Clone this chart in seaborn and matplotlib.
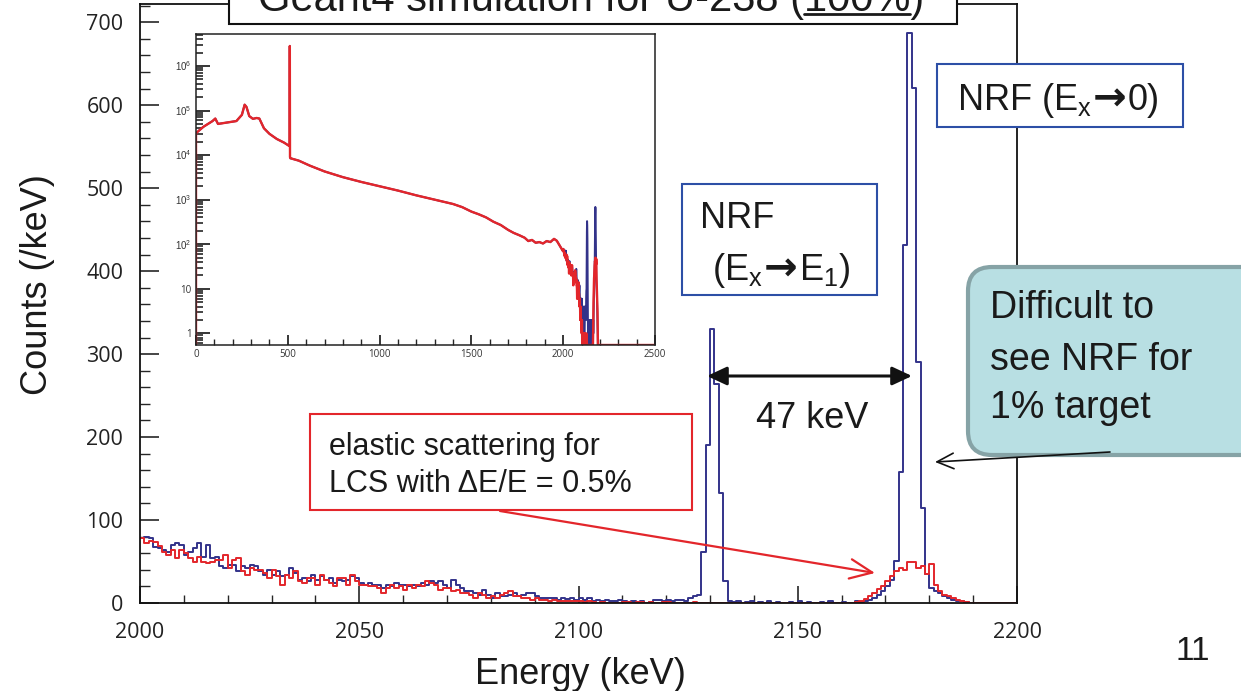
import numpy as np
import pandas as pd
import matplotlib
matplotlib.use("Agg")
import matplotlib.pyplot as plt
import seaborn as sns
from matplotlib.patches import Rectangle, FancyBboxPatch, FancyArrowPatch
from matplotlib.lines import Line2D
from matplotlib.transforms import IdentityTransform
from matplotlib.ticker import MultipleLocator, FixedLocator, FixedFormatter, LogLocator, NullFormatter

# ---------------- data (1 keV bins, 2000-2199 keV) ----------------
bin_start_keV = 2000
bin_stop_keV = 2200

blue_counts = [  # U-238 100% target (NRF peaks)
    78, 79, 78, 68, 66, 64, 62, 70, 72, 70,
    58, 62, 66, 72, 56, 70, 54, 56, 44, 42,
    46, 46, 38, 44, 42, 46, 44, 38, 34, 40,
    34, 38, 32, 34, 42, 36, 28, 30, 26, 34,
    28, 32, 28, 30, 24, 28, 26, 28, 32, 30,
    24, 22, 24, 22, 22, 18, 22, 20, 24, 22,
    22, 20, 22, 20, 24, 22, 26, 24, 26, 22,
    18, 28, 22, 18, 14, 14, 12, 10, 16, 10,
    6, 12, 8, 8, 10, 12, 8, 10, 12, 12,
    8, 6, 6, 6, 6, 4, 6, 5, 6, 4,
    6, 4, 6, 2, 4, 2, 4, 2, 2, 4,
    2, 1, 2, 1, 2, 0, 1, 4, 4, 2,
    4, 2, 4, 4, 2, 6, 9, 10, 62, 191,
    330, 264, 133, 27, 3, 1, 2, 0, 1, 2,
    0, 1, 0, 2, 0, 1, 0, 0, 1, 0,
    2, 0, 1, 0, 0, 1, 0, 2, 0, 0,
    1, 0, 0, 2, 1, 2, 4, 6, 10, 15,
    20, 28, 51, 158, 431, 687, 621, 290, 115, 35,
    18, 14, 12, 8, 6, 4, 3, 2, 1, 0,
    0, 0, 0, 0, 0, 0, 0, 0, 0, 0,
]

red_counts = [  # elastic scattering, LCS dE/E = 0.5 %
    78, 72, 75, 74, 69, 62, 58, 64, 54, 64,
    60, 54, 50, 56, 50, 48, 50, 52, 52, 58,
    42, 52, 54, 38, 34, 42, 40, 40, 36, 30,
    40, 32, 22, 34, 30, 38, 26, 24, 30, 30,
    22, 34, 28, 24, 20, 30, 30, 22, 34, 26,
    22, 22, 20, 20, 18, 12, 18, 22, 18, 20,
    16, 22, 18, 22, 20, 26, 24, 22, 16, 18,
    18, 14, 16, 12, 12, 10, 6, 12, 10, 6,
    8, 6, 10, 12, 14, 8, 8, 6, 6, 4,
    6, 4, 4, 2, 4, 2, 2, 2, 2, 2,
    2, 1, 2, 1, 0, 1, 0, 0, 0, 0,
    1, 1, 0, 1, 1, 0, 1, 0, 0, 1,
    1, 0, 0, 0, 0, 0, 1, 0, 0, 0,
    0, 0, 0, 0, 0, 0, 0, 0, 0, 0,
    0, 0, 0, 0, 0, 0, 0, 0, 0, 0,
    0, 0, 0, 0, 0, 0, 0, 0, 0, 0,
    0, 0, 0, 1, 3, 5, 8, 12, 17, 20,
    27, 33, 38, 42, 40, 50, 49, 42, 44, 35,
    47, 22, 15, 10, 8, 6, 4, 3, 1, 0,
    0, 0, 0, 0, 0, 0, 0, 0, 0, 0,
]

# inset: full spectrum 0-2000 keV (log scale)
inset_energy = [0, 0, 40, 90, 105, 120, 160, 220, 250, 265, 275, 290, 310, 330, 345,
                370, 400, 440, 480, 508, 510, 511, 512, 514, 560, 620, 700, 800, 900,
                1000, 1100, 1200, 1300, 1400, 1450, 1500, 1540, 1580, 1620, 1660,
                1700, 1730, 1760, 1790, 1810, 1830, 1850, 1870, 1890, 1910, 1930,
                1950, 1965, 1980, 1999]
inset_counts = [0.55, 3.1e4, 4.3e4, 5.8e4, 6.6e4, 5.0e4, 5.3e4, 5.8e4, 8.0e4, 1.35e5,
                1.2e5, 7.5e4, 6.5e4, 6.8e4, 6.6e4, 4.0e4, 3.0e4, 2.3e4, 1.9e4, 1.6e4,
                1.6e4, 2.8e6, 9.0e3, 8.5e3, 7.5e3, 5.8e3, 4.3e3, 3.2e3, 2.5e3, 2.0e3,
                1.6e3, 1.25e3, 1.0e3, 800, 680, 540, 470, 400, 320, 270, 210, 180,
                160, 140, 118, 125, 108, 112, 104, 118, 112, 132, 120, 95, 70]

x_ticks = [2000, 2050, 2100, 2150, 2200]
x_tick_labels = ["2000", "2050", "2100", "2150", "2200"]
y_ticks = [0, 100, 200, 300, 400, 500, 600, 700]
y_tick_labels = ["0", "100", "200", "300", "400", "500", "600", "700"]
inset_x_ticks = [0, 500, 1000, 1500, 2000, 2500]
inset_x_labels = ["0", "500", "1000", "1500", "2000", "2500"]
inset_y_ticks = [1, 10, 1e2, 1e3, 1e4, 1e5, 1e6]
inset_y_labels = ["1", "10", r"$10^{2}$", r"$10^{3}$", r"$10^{4}$", r"$10^{5}$", r"$10^{6}$"]

# ---------------- style ----------------
sns.set_theme(style="ticks")
plt.rcParams["font.family"] = ["Liberation Sans", "DejaVu Sans"]
plt.rcParams["mathtext.fontset"] = "custom"
plt.rcParams["mathtext.rm"] = "Liberation Sans"
plt.rcParams["mathtext.it"] = "Liberation Sans:italic"
plt.rcParams["mathtext.bf"] = "Liberation Sans:bold"

BLUE = "#33338a"
RED = "#e3262b"
TXT = "#1a1a1a"
W, H = 1241, 691

fig = plt.figure(figsize=(W / 100, H / 100), dpi=100)
fig.patch.set_facecolor("white")
renderer = fig.canvas.get_renderer()


def px_text(x, y, s, **kw):
    kw.setdefault("color", TXT)
    return fig.text(x / W, 1 - y / H, s, **kw)


def seq_text(x, yb, parts, fontsize, zorder=6):
    """Draw text pieces one after another on a common baseline."""
    cur = x
    for s, kw in parts:
        kw = dict(kw)
        gap_before = kw.pop("gap_before", 0)
        gap_after = kw.pop("gap_after", 0)
        dy = kw.pop("dy", 0)
        kw.setdefault("fontsize", fontsize)
        cur += gap_before
        t = px_text(cur, yb + dy, s, ha="left", va="baseline", zorder=zorder, **kw)
        cur += t.get_window_extent(renderer).width + gap_after


ID = IdentityTransform()

# ---------------- main axes ----------------
ax = fig.add_axes([140 / W, 1 - 603 / H, 877 / W, 599 / H])
edges = [float(e) for e in range(bin_start_keV, bin_stop_keV + 1)]
centers = [e + 0.5 for e in edges[:-1]]
df_blue = pd.DataFrame({"energy": centers, "counts": blue_counts})
df_red = pd.DataFrame({"energy": centers, "counts": red_counts})
sns.histplot(data=df_blue, x="energy", weights="counts", bins=edges, element="step",
             fill=False, color=BLUE, linewidth=1.4, ax=ax)
sns.histplot(data=df_red, x="energy", weights="counts", bins=edges, element="step",
             fill=False, color=RED, linewidth=1.4, ax=ax)
ax.set_xlim(2000, 2200)
ax.set_ylim(0, 722)
ax.xaxis.set_major_locator(FixedLocator(x_ticks))
ax.xaxis.set_major_formatter(FixedFormatter(x_tick_labels))
ax.xaxis.set_minor_locator(MultipleLocator(10))
ax.yaxis.set_major_locator(FixedLocator(y_ticks))
ax.yaxis.set_major_formatter(FixedFormatter(y_tick_labels))
ax.yaxis.set_minor_locator(MultipleLocator(20))
ax.tick_params(axis="x", which="major", direction="in", length=12, width=1.2, pad=14,
               labelsize=15.5, labelcolor="#222222", labelfontfamily="Open Sans")
ax.tick_params(axis="x", which="minor", direction="in", length=6, width=1.0)
ax.tick_params(axis="y", which="major", direction="in", length=14, width=1.2, pad=12,
               labelsize=15.5, labelcolor="#222222", labelfontfamily="Open Sans")
ax.tick_params(axis="y", which="minor", direction="in", length=7, width=1.0)
for sp in ax.spines.values():
    sp.set_visible(True)
    sp.set_color("#111111")
    sp.set_linewidth(1.3)
ax.set_xlabel("Energy (keV)", fontsize=26, color=TXT)
ax.set_ylabel("Counts (/keV)", fontsize=26, color=TXT)
ax.xaxis.label.set(ha="center", va="center")
ax.yaxis.label.set(ha="center", va="center")
ax.xaxis.set_label_coords((580 - 140) / 877, (603 - 674) / 599)
ax.yaxis.set_label_coords((38 - 140) / 877, (603 - 285) / 599)

# ---------------- inset ----------------
ax_in = fig.add_axes([196 / W, 1 - 345 / H, 459 / W, 311 / H])
ax_in.set_yscale("log")
floor = 0.55
main_x = list(edges[:-1]) + [2200.0, 2500.0]
x_in = list(inset_energy) + main_x
y_blue_in = np.clip(np.array(list(inset_counts) + list(blue_counts) + [0, 0], dtype=float), floor, None)
y_red_in = np.clip(np.array(list(inset_counts) + list(red_counts) + [0, 0], dtype=float), floor, None)
sns.lineplot(x=x_in, y=y_blue_in, estimator=None, sort=False, color=BLUE, linewidth=1.4, ax=ax_in)
sns.lineplot(x=x_in, y=y_red_in, estimator=None, sort=False, color=RED, linewidth=1.7, ax=ax_in)
ax_in.set_xlim(0, 2500)
ax_in.set_ylim(floor, 5.2e6)
ax_in.xaxis.set_major_locator(FixedLocator(inset_x_ticks))
ax_in.xaxis.set_major_formatter(FixedFormatter(inset_x_labels))
ax_in.xaxis.set_minor_locator(MultipleLocator(100))
ax_in.yaxis.set_major_locator(FixedLocator(inset_y_ticks))
ax_in.yaxis.set_major_formatter(FixedFormatter(inset_y_labels))
ax_in.yaxis.set_minor_locator(LogLocator(base=10, subs=np.arange(2, 10), numticks=30))
ax_in.yaxis.set_minor_formatter(NullFormatter())
ax_in.tick_params(axis="both", which="major", direction="in", width=1.3, labelsize=7,
                  labelcolor="#333333", labelfontfamily="Open Sans", pad=3)
ax_in.tick_params(axis="x", which="major", length=7)
ax_in.tick_params(axis="x", which="minor", direction="in", length=4, width=1.0)
ax_in.tick_params(axis="y", which="major", length=10)
ax_in.tick_params(axis="y", which="minor", direction="in", length=5, width=1.2)
ax_in.set_xlabel("")
ax_in.set_ylabel("")
for sp in ax_in.spines.values():
    sp.set_visible(True)
    sp.set_color("#222222")
    sp.set_linewidth(1.1)

# ---------------- title box (cut at top edge) ----------------
fig.add_artist(Rectangle((229, H - 24), 957 - 229, 60, transform=ID, facecolor="white",
                         edgecolor="#111111", linewidth=1.5, zorder=5))
title_prefix = "Geant4 simulation for U-238 ("
title_under = "100%"
title_suffix = ")"
t = px_text(591, 11, title_prefix + title_under + title_suffix, ha="center",
            va="baseline", fontsize=30, zorder=6)
bb = t.get_window_extent(renderer)
tmp1 = fig.text(0, 0, title_prefix, fontsize=30)
tmp2 = fig.text(0, 0, title_under, fontsize=30)
w1 = tmp1.get_window_extent(renderer).width
w2 = tmp2.get_window_extent(renderer).width
tmp1.remove()
tmp2.remove()
fig.add_artist(Line2D([bb.x0 + w1, bb.x0 + w1 + w2], [H - 14, H - 14], transform=ID,
                      color=TXT, linewidth=2.0, zorder=6))

# ---------------- NRF boxes ----------------
ARROW = "→"
arrow_kw = {"family": "DejaVu Sans", "fontweight": "bold", "fontsize": 29,
            "gap_before": 1, "gap_after": 1, "dy": 1}
fig.add_artist(Rectangle((937, H - 127), 1183 - 937, 127 - 64, transform=ID,
                         facecolor="white", edgecolor="#2d4fa6", linewidth=1.5, zorder=5))
seq_text(957, 110, [("NRF (E$_{\\mathregular{x}}$", {}), (ARROW, arrow_kw), ("0)", {})],
         fontsize=26)

fig.add_artist(Rectangle((682, H - 295), 877 - 682, 295 - 184, transform=ID,
                         facecolor="white", edgecolor="#2d4fa6", linewidth=1.5, zorder=5))
px_text(700, 228, "NRF", ha="left", va="baseline", fontsize=26, zorder=6)
seq_text(712, 280, [("(E$_{\\mathregular{x}}$", {}), (ARROW, arrow_kw),
                    ("E$_{\\mathregular{1}}$)", {})], fontsize=26)

# 47 keV double arrow
fig.add_artist(FancyArrowPatch((707, H - 376), (912, H - 376), transform=ID,
                               arrowstyle="<|-|>,head_length=0.6,head_width=0.28",
                               mutation_scale=20, color="#111111", linewidth=2.2,
                               shrinkA=0, shrinkB=0, zorder=6))
px_text(812, 428, "47 keV", ha="center", va="baseline", fontsize=26, zorder=6)

# elastic-scattering box and red arrow
fig.add_artist(Rectangle((310, H - 510), 692 - 310, 510 - 414, transform=ID,
                         facecolor="white", edgecolor=RED, linewidth=1.5, zorder=5))
px_text(329, 455, "elastic scattering for", ha="left", va="baseline", fontsize=22, zorder=6)
px_text(329, 492, "LCS with ΔE/E = 0.5%", ha="left", va="baseline", fontsize=22, zorder=6)
fig.add_artist(FancyArrowPatch((500, H - 511), (875, H - 573), transform=ID,
                               arrowstyle="->,head_length=0.8,head_width=0.35",
                               mutation_scale=20, color=RED, linewidth=1.6,
                               shrinkA=0, shrinkB=0, zorder=6))

# teal call-out box
fig.add_artist(FancyBboxPatch((968, H - 455), 320, 455 - 267, transform=ID,
                              boxstyle="round,pad=0,rounding_size=24",
                              facecolor="#b8dfe3", edgecolor="#86a3a6", linewidth=3.0,
                              zorder=5))
for line, yb in zip(["Difficult to", "see NRF for", "1% target"], [318, 370, 418]):
    px_text(990, yb, line, ha="left", va="baseline", fontsize=27, zorder=6)
fig.add_artist(FancyArrowPatch((1110, H - 452), (935, H - 462), transform=ID,
                               arrowstyle="->,head_length=0.6,head_width=0.28",
                               mutation_scale=20, color="#111111", linewidth=1.2,
                               shrinkA=0, shrinkB=0, zorder=6))

# slide number
px_text(1193, 660, "11", ha="center", va="baseline", fontsize=24)

fig.savefig("out.png", dpi=100, facecolor="white")
